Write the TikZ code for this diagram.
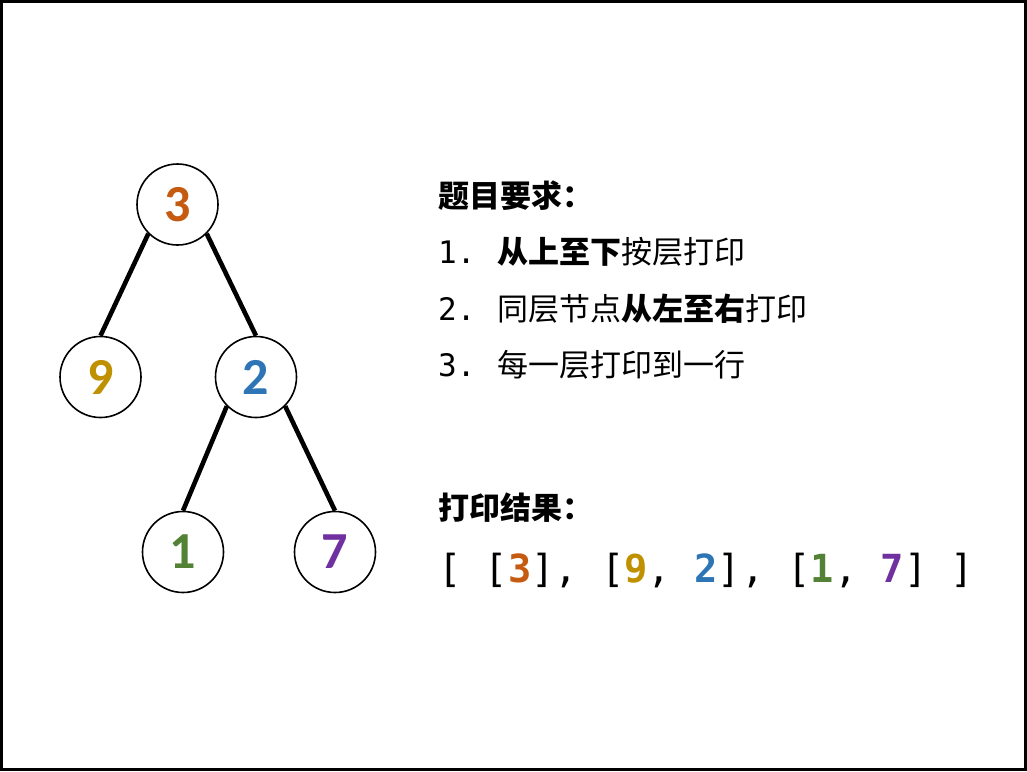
\documentclass[tikz,border=0pt]{standalone}
\usepackage{fontspec}
\newfontfamily\cjk{Noto Sans CJK SC}
\newfontfamily\monof{DejaVu Sans Mono}
\newfontfamily\digf{Carlito}
\definecolor{cthree}{HTML}{C55A11}
\definecolor{cnine}{HTML}{BF9000}
\definecolor{ctwo}{HTML}{2E75B6}
\definecolor{cone}{HTML}{538135}
\definecolor{cseven}{HTML}{7030A0}
\tikzset{
  treenode/.style={circle, draw=black, line width=1.6pt, fill=white, minimum size=81pt, inner sep=0pt,
    font=\digf\fontsize{52}{52}\selectfont\bfseries},
  treeedge/.style={line width=4.6pt},
  txt/.style={anchor=base west, inner sep=0pt, font=\cjk\fontsize{31}{31}\selectfont},
  arr/.style={anchor=base west, inner sep=0pt, font=\monof\fontsize{38.7}{38.7}\selectfont}
}
\newcommand{\numlab}[1]{\makebox[59pt][l]{\monof #1.}}
\begin{document}
\begin{tikzpicture}[x=1pt,y=-1pt]
\useasboundingbox (0,0) rectangle (1027,771);
\draw[line width=3pt] (1.5,1.5) rectangle (1025.5,769.5);
% tree
\node[treenode, text=cthree] (n3) at (177.5,204.5) {3};
\node[treenode, text=cnine] (n9) at (100.5,377) {9};
\node[treenode, text=ctwo] (n2) at (256,377) {2};
\node[treenode, text=cone] (n1) at (183,552) {1};
\node[treenode, text=cseven] (n7) at (335,552) {7};
\draw[treeedge] (n3.south west) -- (n9.north);
\draw[treeedge] (n3.south east) -- (n2.north);
\draw[treeedge] (n2.south west) -- (n1.north);
\draw[treeedge] (n2.south east) -- (n7.north);
% requirements
\node[txt] (t0) at (438,207.5) {\bfseries 题目要求：};
\node[txt] (t1) at (438,263.5) {\numlab{1}{\bfseries 从上至下}按层打印};
\node[txt] (t2) at (438,320.5) {\numlab{2}同层节点{\bfseries 从左至右}打印};
\node[txt] (t3) at (438,376.5) {\numlab{3}每一层打印到一行};
% result
\node[txt] (r0) at (438,519.5) {\bfseries 打印结果：};
\node[arr] (r1) at (438,582) {[ [\textbf{\color{cthree}3}], [\textbf{\color{cnine}9}, \textbf{\color{ctwo}2}], [\textbf{\color{cone}1}, \textbf{\color{cseven}7}] ]};
\end{tikzpicture}
\end{document}
